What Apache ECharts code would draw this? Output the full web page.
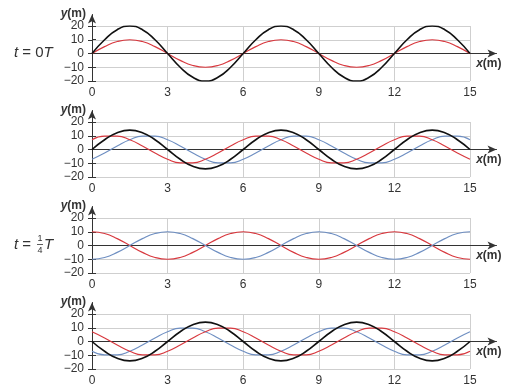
<!DOCTYPE html>
<html>
<head>
<meta charset="utf-8">
<script src="https://cdn.jsdelivr.net/npm/echarts@6/dist/echarts.min.js"></script>
<style>html,body{margin:0;padding:0;background:#fff;}#c{width:520px;height:389px;}</style>
</head>
<body>
<div id="c"></div>
<script>
// ---- data (x in m, y in m) ----
const xPos = [0,0.5,1,1.5,2,2.5,3,3.5,4,4.5,5,5.5,6,6.5,7,7.5,8,8.5,9,9.5,10,10.5,11,11.5,12,12.5,13,13.5,14,14.5,15];
const xTicks = [0,3,6,9,12,15];
const yTicks = [-20,-10,0,10,20];

// panel 1: t = 0T
const p1Black = [0,10,17.3,20,17.3,10,0,-10,-17.3,-20,-17.3,-10, 0,10,17.3,20,17.3,10,0,-10,-17.3,-20,-17.3,-10, 0,10,17.3,20,17.3,10,0];
const p1Red   = [0,5,8.7,10,8.7,5,0,-5,-8.7,-10,-8.7,-5, 0,5,8.7,10,8.7,5,0,-5,-8.7,-10,-8.7,-5, 0,5,8.7,10,8.7,5,0];
// panel 2
const p2Red   = [7.1,9.7,9.7,7.1,2.6,-2.6,-7.1,-9.7,-9.7,-7.1,-2.6,2.6, 7.1,9.7,9.7,7.1,2.6,-2.6,-7.1,-9.7,-9.7,-7.1,-2.6,2.6, 7.1,9.7,9.7,7.1,2.6,-2.6,-7.1];
const p2Blue  = [-7.1,-2.6,2.6,7.1,9.7,9.7,7.1,2.6,-2.6,-7.1,-9.7,-9.7, -7.1,-2.6,2.6,7.1,9.7,9.7,7.1,2.6,-2.6,-7.1,-9.7,-9.7, -7.1,-2.6,2.6,7.1,9.7,9.7,7.1];
const p2Black = [0,7.1,12.2,14.1,12.2,7.1,0,-7.1,-12.2,-14.1,-12.2,-7.1, 0,7.1,12.2,14.1,12.2,7.1,0,-7.1,-12.2,-14.1,-12.2,-7.1, 0,7.1,12.2,14.1,12.2,7.1,0];
// panel 3: t = 1/4 T
const p3Red   = [10,8.7,5,0,-5,-8.7,-10,-8.7,-5,0,5,8.7, 10,8.7,5,0,-5,-8.7,-10,-8.7,-5,0,5,8.7, 10,8.7,5,0,-5,-8.7,-10];
const p3Blue  = [-10,-8.7,-5,0,5,8.7,10,8.7,5,0,-5,-8.7, -10,-8.7,-5,0,5,8.7,10,8.7,5,0,-5,-8.7, -10,-8.7,-5,0,5,8.7,10];
// panel 4
const p4Red   = [7.1,2.6,-2.6,-7.1,-9.7,-9.7,-7.1,-2.6,2.6,7.1,9.7,9.7, 7.1,2.6,-2.6,-7.1,-9.7,-9.7,-7.1,-2.6,2.6,7.1,9.7,9.7, 7.1,2.6,-2.6,-7.1,-9.7,-9.7,-7.1];
const p4Blue  = [-7.1,-9.7,-9.7,-7.1,-2.6,2.6,7.1,9.7,9.7,7.1,2.6,-2.6, -7.1,-9.7,-9.7,-7.1,-2.6,2.6,7.1,9.7,9.7,7.1,2.6,-2.6, -7.1,-9.7,-9.7,-7.1,-2.6,2.6,7.1];
const p4Black = [0,-7.1,-12.2,-14.1,-12.2,-7.1,0,7.1,12.2,14.1,12.2,7.1, 0,-7.1,-12.2,-14.1,-12.2,-7.1,0,7.1,12.2,14.1,12.2,7.1, 0,-7.1,-12.2,-14.1,-12.2,-7.1,0];

const panels = [
  [['red', p1Red], ['black', p1Black]],
  [['blue', p2Blue], ['red', p2Red], ['black', p2Black]],
  [['red', p3Red], ['blue', p3Blue]],
  [['blue', p4Blue], ['red', p4Red], ['black', p4Black]]
];

// ---- styling / layout ----
const COL = { black: '#111111', red: '#d8393f', blue: '#6f8fc2' };
const LW = { black: 1.6, red: 1.2, blue: 1.2 };
const FONT = "'Liberation Sans', Arial, sans-serif";
const TXT = '#333333';
const LEFT = 92, WIDTH = 378, H = 55;
const TOPS = [26, 122, 218, 314];
const EXT_Y = 11.5;      // axis line above y=20 (px)
const ARROW_END = 496.5; // x pixel where x axis line ends

const grids = [], xAxes = [], yAxes = [], series = [];
TOPS.forEach((T, i) => {
  // main grid
  grids.push({ left: LEFT, top: T, width: WIDTH, height: H });
  const g = grids.length - 1;
  xAxes.push({
    type: 'value', gridIndex: g, min: 0, max: 15, interval: 3,
    axisLine: { show: false }, axisTick: { show: false },
    axisLabel: { color: TXT, fontSize: 12, fontFamily: FONT, margin: 6 },
    splitLine: { show: true, lineStyle: { color: '#cfcfcf', width: 1 } }
  });
  yAxes.push({
    type: 'value', gridIndex: g, min: -20, max: 20, interval: 10,
    axisLine: { show: false },
    axisTick: { show: true, inside: false, length: 4, lineStyle: { color: '#333' } },
    axisLabel: { color: TXT, fontSize: 12, fontFamily: FONT, margin: 8, formatter: v => (v < 0 ? '\u2212' + (-v) : '' + v) },
    splitLine: { show: true, lineStyle: { color: '#cfcfcf', width: 1 } }
  });
  // overlay grid for arrowed axes
  const pxPerUnit = H / 40;
  grids.push({ left: LEFT, top: T - EXT_Y, width: ARROW_END - LEFT, height: H + EXT_Y });
  const gb = grids.length - 1;
  xAxes.push({
    type: 'value', gridIndex: gb, min: 0, max: 1,
    axisLine: { show: true, onZero: true, symbol: ['none', 'arrow'], symbolSize: [6, 9], lineStyle: { color: '#333', width: 1 } },
    axisTick: { show: false }, axisLabel: { show: false }, splitLine: { show: false },
    name: '{i|x}(m)', nameLocation: 'end', nameGap: 5,
    nameTextStyle: { color: TXT, fontSize: 12, fontFamily: FONT, fontWeight: 'bold', align: 'right', verticalAlign: 'top', padding: [4, 0, 0, 0],
      rich: { i: { fontStyle: 'italic', fontWeight: 'bold', fontSize: 12, fontFamily: FONT, color: TXT } } }
  });
  yAxes.push({
    type: 'value', gridIndex: gb, min: -20, max: 20 + EXT_Y / pxPerUnit,
    axisLine: { show: true, onZero: false, symbol: ['none', 'arrow'], symbolSize: [6, 9], lineStyle: { color: '#333', width: 1 } },
    axisTick: { show: true, inside: true, length: 4, customValues: yTicks, lineStyle: { color: '#333' } },
    axisLabel: { show: false }, splitLine: { show: false },
    name: '{i|y}(m)', nameLocation: 'end', nameGap: 1,
    nameTextStyle: { color: TXT, fontSize: 12, fontFamily: FONT, fontWeight: 'bold', align: 'right', verticalAlign: 'middle', padding: [0, 6, 0, 0],
      rich: { i: { fontStyle: 'italic', fontWeight: 'bold', fontSize: 12, fontFamily: FONT, color: TXT } } }
  });
  panels[i].forEach(([c, arr]) => {
    series.push({
      type: 'line', xAxisIndex: g, yAxisIndex: g, smooth: true, showSymbol: false, silent: true,
      data: xPos.map((x, k) => [x, arr[k]]),
      lineStyle: { color: COL[c], width: LW[c] }, z: 3
    });
  });
});

const chart = echarts.init(document.getElementById('c'), null, { renderer: 'canvas' });
chart.setOption({
  animation: false,
  backgroundColor: '#ffffff',
  grid: grids, xAxis: xAxes, yAxis: yAxes, series: series,
  graphic: [
    { type: 'text', left: 14, top: 45,
      style: { text: '{i|t} = 0{i|T}', fill: TXT, font: '15px ' + FONT,
        rich: { i: { fontStyle: 'italic', fontSize: 15, fontFamily: FONT, fill: TXT } } } },
    { type: 'text', x: 14, y: 245,
      style: { text: '{i|t} =', fill: TXT, font: '15px ' + FONT, verticalAlign: 'middle',
        rich: { i: { fontStyle: 'italic', fontSize: 15, fontFamily: FONT, fill: TXT } } } },
    { type: 'text', x: 40, y: 239, style: { text: '1', fill: TXT, font: '9px ' + FONT, align: 'center', verticalAlign: 'middle' } },
    { type: 'line', shape: { x1: 37, y1: 244.5, x2: 43, y2: 244.5 }, style: { stroke: TXT, lineWidth: 0.8 } },
    { type: 'text', x: 40, y: 250.5, style: { text: '4', fill: TXT, font: '9px ' + FONT, align: 'center', verticalAlign: 'middle' } },
    { type: 'text', x: 44, y: 245, style: { text: 'T', fill: TXT, font: 'italic 15px ' + FONT, verticalAlign: 'middle' } }
  ]
});
</script>
</body>
</html>
